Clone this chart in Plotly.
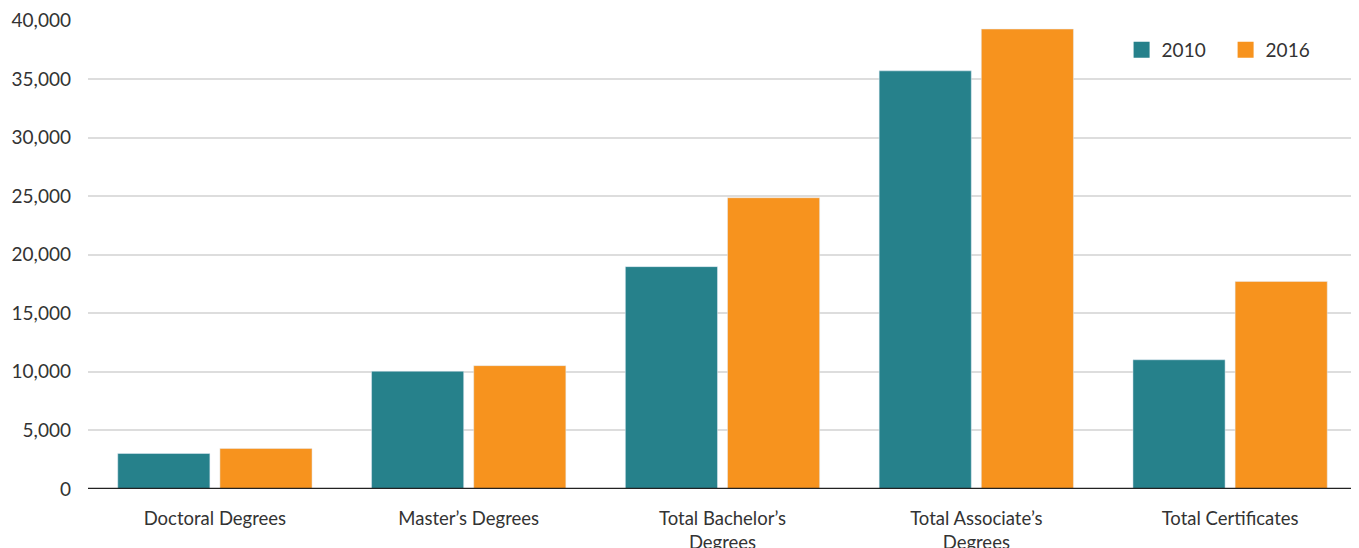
import plotly.graph_objects as go

categories = ["Doctoral Degrees", "Master\u2019s Degrees", "Total Bachelor\u2019s<br>Degrees",
              "Total Associate\u2019s<br>Degrees", "Total Certificates"]
values_2010 = [3030, 10050, 18980, 35690, 11030]
values_2016 = [3460, 10530, 24860, 39260, 17720]
tick_vals = [0, 5000, 10000, 15000, 20000, 25000, 30000, 35000, 40000]
tick_text = ["0", "5,000", "10,000", "15,000", "20,000", "25,000", "30,000", "35,000", "40,000"]

TEAL = "#26818B"
ORANGE = "#F7931E"

fig = go.Figure()
fig.add_trace(go.Bar(x=categories, y=values_2010, name="2010", marker_color=TEAL, showlegend=False))
fig.add_trace(go.Bar(x=categories, y=values_2016, name="2016", marker_color=ORANGE, showlegend=False))
# legend entries with square symbols
fig.add_trace(go.Scatter(x=[None], y=[None], mode="markers", name="2010",
                         marker=dict(symbol="square", size=19, color=TEAL)))
fig.add_trace(go.Scatter(x=[None], y=[None], mode="markers", name="2016",
                         marker=dict(symbol="square", size=19, color=ORANGE)))

fig.update_layout(
    width=1351, height=540,
    margin=dict(l=80, r=2, t=12, b=59, pad=0, autoexpand=False),
    paper_bgcolor="white", plot_bgcolor="white",
    font=dict(family="Lato", size=18, color="#333333"),
    barmode="group", bargap=0.195, bargroupgap=0.098,
    legend=dict(orientation="h", x=0.8145, y=0.936, xanchor="left", yanchor="middle",
                entrywidth=59, font=dict(size=19, color="#333333"), bgcolor="rgba(0,0,0,0)"),
    xaxis=dict(showgrid=False, showline=False, ticks="", ticklabelstandoff=16,
               automargin=False, tickfont=dict(size=18.5, color="#333333")),
    yaxis=dict(range=[0, 40030], tickvals=tick_vals, ticktext=tick_text,
               showgrid=True, gridcolor="#dddddd", gridwidth=1.5, zeroline=False,
               showline=False, ticks="", ticklabelstandoff=16, automargin=False,
               tickfont=dict(size=19, color="#333333")),
    shapes=[dict(type="line", xref="paper", yref="y", x0=0, x1=1, y0=0, y1=0,
                 line=dict(color="#222222", width=2.5))],
)

fig.write_html("out.html")
